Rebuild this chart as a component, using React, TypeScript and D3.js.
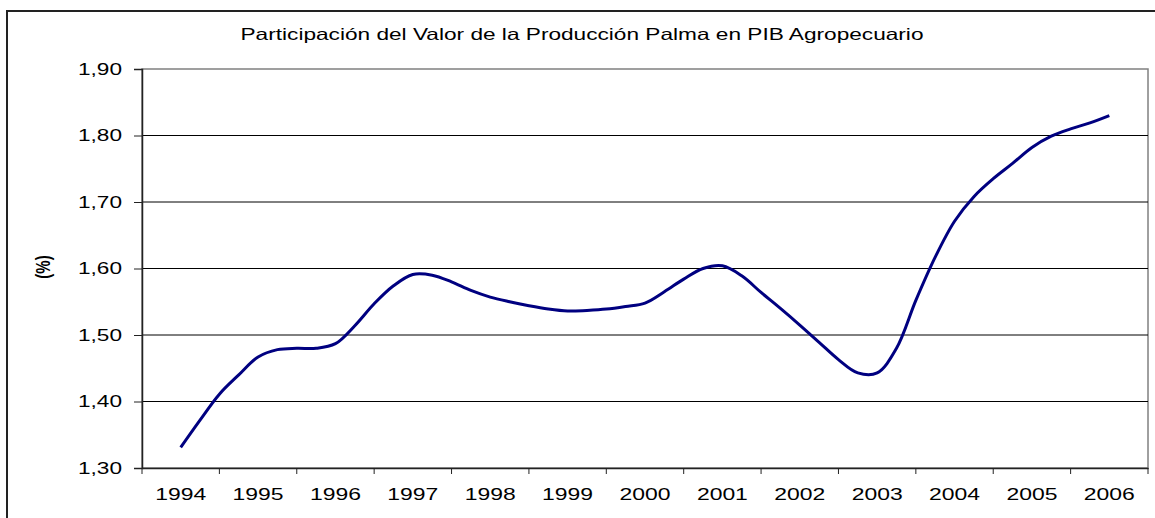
// @ts-nocheck
import React, { useRef, useEffect } from "react";
import * as d3 from "d3";

// category labels on the x axis
const years = ["1994", "1995", "1996", "1997", "1998", "1999", "2000", "2001", "2002", "2003", "2004", "2005", "2006"];

// y axis ticks (%)
const yTicks = [1.3, 1.4, 1.5, 1.6, 1.7, 1.8, 1.9];

// quarterly share of palm production in agricultural GDP, 1994-I .. 2006-I
const participacion = [
  1.331, 1.372, 1.411, 1.44, 1.467, 1.478, 1.48, 1.48,
  1.487, 1.514, 1.547, 1.574, 1.591, 1.59, 1.58, 1.567,
  1.557, 1.55, 1.544, 1.539, 1.536, 1.537, 1.539, 1.543,
  1.548, 1.565, 1.584, 1.6, 1.604, 1.589, 1.564, 1.54,
  1.515, 1.489, 1.463, 1.443, 1.443, 1.48, 1.552, 1.617,
  1.671, 1.708, 1.735, 1.758, 1.782, 1.799, 1.81, 1.819,
  1.83,
];

const title = "Participación del Valor de la Producción Palma en PIB Agropecuario";
const FONT = "'Liberation Sans', Arial, sans-serif";

const App = () => {
  const ref = useRef(null);

  useEffect(() => {
    const width = 1155;
    const height = 518;
    const plot = { left: 142, right: 1148, top: 69, bottom: 468 };

    const svg = d3
      .select(ref.current)
      .append("svg")
      .attr("width", width)
      .attr("height", height)
      .style("display", "block")
      .style("background", "#fff");

    // chart frame
    svg
      .append("rect")
      .attr("x", 7)
      .attr("y", 11)
      .attr("width", 1200)
      .attr("height", 600)
      .attr("fill", "#fff")
      .attr("stroke", "#222")
      .attr("stroke-width", 2);

    const x = d3.scaleBand().domain(years).range([plot.left, plot.right]).padding(0);
    const bw = x.bandwidth();
    const xq = d3
      .scaleLinear()
      .domain([0, participacion.length - 1])
      .range([x(years[0]) + bw / 2, x(years[years.length - 1]) + bw / 2]);
    const y = d3.scaleLinear().domain([1.3, 1.9]).range([plot.bottom, plot.top]);

    // plot area border
    svg
      .append("rect")
      .attr("x", plot.left)
      .attr("y", plot.top)
      .attr("width", plot.right - plot.left)
      .attr("height", plot.bottom - plot.top)
      .attr("fill", "#fff")
      .attr("stroke", "#808080")
      .attr("stroke-width", 1.5);

    // gridlines
    svg
      .append("g")
      .selectAll("line")
      .data(yTicks.slice(1, -1))
      .enter()
      .append("line")
      .attr("x1", plot.left)
      .attr("x2", plot.right)
      .attr("y1", (d) => y(d))
      .attr("y2", (d) => y(d))
      .attr("stroke", "#000")
      .attr("stroke-width", 1);

    // y axis
    const yAxis = svg
      .append("g")
      .attr("transform", `translate(${plot.left},0)`)
      .call(
        d3
          .axisLeft(y)
          .tickValues(yTicks)
          .tickSize(8)
          .tickPadding(12)
          .tickFormat((d) => d3.format(".2f")(d).replace(".", ","))
      );
    yAxis.select(".domain").attr("stroke", "#222").attr("stroke-width", 1.5);
    yAxis.selectAll(".tick line").attr("stroke", "#222");
    yAxis
      .selectAll("text")
      .attr("font-family", FONT)
      .attr("font-size", 17)
      .attr("fill", "#000")
      .attr("textLength", 44)
      .attr("lengthAdjust", "spacingAndGlyphs");

    // x axis labels
    const xAxis = svg
      .append("g")
      .attr("transform", `translate(0,${plot.bottom})`)
      .call(d3.axisBottom(x).tickSize(0).tickPadding(20).tickSizeOuter(0));
    xAxis.select(".domain").attr("stroke", "#222").attr("stroke-width", 1.5);
    xAxis
      .selectAll("text")
      .attr("font-family", FONT)
      .attr("font-size", 16.5)
      .attr("fill", "#000")
      .attr("textLength", 51)
      .attr("lengthAdjust", "spacingAndGlyphs");

    // x tick marks between categories
    svg
      .append("g")
      .selectAll("line")
      .data(years.map((d) => x(d)).concat([plot.right]))
      .enter()
      .append("line")
      .attr("x1", (d) => d)
      .attr("x2", (d) => d)
      .attr("y1", plot.bottom)
      .attr("y2", plot.bottom + 6)
      .attr("stroke", "#222");

    // series line
    const line = d3
      .line()
      .x((d, i) => xq(i))
      .y((d) => y(d))
      .curve(d3.curveCatmullRom.alpha(0.5));

    svg
      .append("path")
      .datum(participacion)
      .attr("d", line)
      .attr("fill", "none")
      .attr("stroke", "#000080")
      .attr("stroke-width", 3)
      .attr("stroke-linejoin", "round");

    // title
    svg
      .append("text")
      .attr("x", 582)
      .attr("y", 40)
      .attr("text-anchor", "middle")
      .attr("font-family", FONT)
      .attr("font-size", 16.5)
      .attr("textLength", 683)
      .attr("lengthAdjust", "spacingAndGlyphs")
      .text(title);

    // y axis title
    svg
      .append("text")
      .attr("transform", "translate(43,267) scale(1.35,1) rotate(-90)")
      .attr("text-anchor", "middle")
      .attr("dy", "0.35em")
      .attr("font-family", FONT)
      .attr("font-size", 15)
      .attr("font-weight", "bold")
      .text("(%)");

    return () => {
      d3.select(ref.current).selectAll("*").remove();
    };
  }, []);

  return <div ref={ref} style={{ position: "absolute", left: 0, top: 0 }}></div>;
};

export default App;
